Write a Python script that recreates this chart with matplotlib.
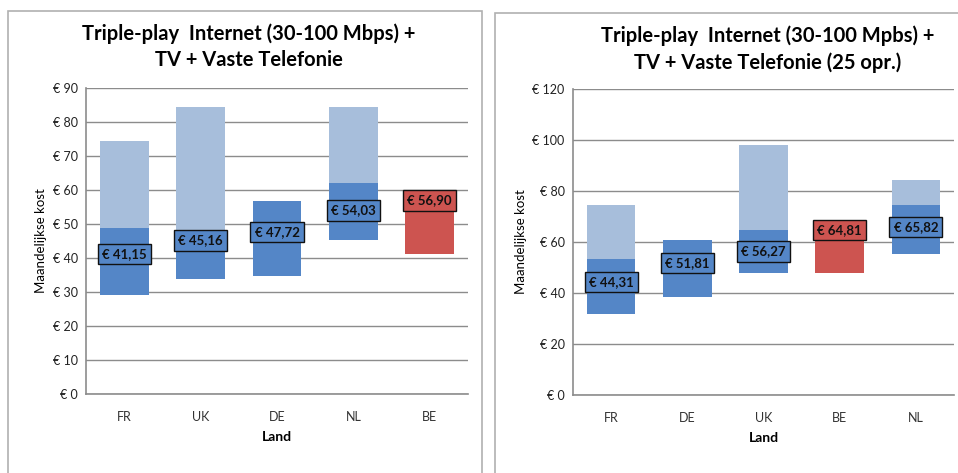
import matplotlib.pyplot as plt
from matplotlib.patches import Rectangle

plt.rcParams["font.family"] = ["Lato", "DejaVu Sans"]

# left chart: Mbps
left_countries = ["FR", "UK", "DE", "NL", "BE"]
left_min = [29.1, 33.8, 34.8, 45.3, 41.2]
left_mid = [48.8, 47.5, 56.8, 62.2, 58.9]
left_max = [74.4, 84.4, 56.8, 84.4, 58.9]
left_avg = [41.15, 45.16, 47.72, 54.03, 56.90]
left_ticks = [0, 10, 20, 30, 40, 50, 60, 70, 80, 90]

# right chart: 25 operators
right_countries = ["FR", "DE", "UK", "BE", "NL"]
right_min = [31.7, 38.6, 47.8, 47.8, 55.4]
right_mid = [53.3, 60.6, 64.8, 67.4, 74.6]
right_max = [74.6, 60.6, 98.2, 67.4, 84.4]
right_avg = [44.31, 51.81, 56.27, 64.81, 65.82]
right_ticks = [0, 20, 40, 60, 80, 100, 120]

light = "#a7bedb"
dark = "#5486c7"
red = "#cd5450"
grid_c = "#8c8c8c"

W, H = 958, 473
fig = plt.figure(figsize=(W / 100, H / 100), dpi=100)

# panel frames
for x0, x1, y0 in [(8, 482, 11), (495, 970, 13)]:
    fig.patches.append(Rectangle((x0 / W, -0.05), (x1 - x0) / W, 1.05 - y0 / H,
                                 transform=fig.transFigure, fill=False,
                                 edgecolor="#b0b0b0", lw=1.2))


def draw(ax, countries, lo, mid, hi, avg, ticks):
    x = list(range(len(countries)))
    for i, c in enumerate(countries):
        col = red if c == "BE" else dark
        ax.bar(i, mid[i] - lo[i], bottom=lo[i], width=0.64, color=col, zorder=2)
        ax.bar(i, hi[i] - mid[i], bottom=mid[i], width=0.64, color=light, zorder=2)
        ax.text(i, avg[i], "€ " + f"{avg[i]:.2f}".replace(".", ","),
                ha="center", va="center", fontsize=9.5, fontweight="bold",
                color="#111111", zorder=4,
                bbox=dict(boxstyle="square,pad=0.32", facecolor=col,
                          edgecolor="#111111", lw=1.0))
    ax.set_xlim(-0.5, len(countries) - 0.5)
    ax.set_ylim(ticks[0], ticks[-1])
    ax.set_yticks(ticks)
    ax.set_yticklabels(["€ " + str(t) for t in ticks], fontsize=9, color="#222222")
    ax.set_xticks(x)
    ax.set_xticklabels(countries, fontsize=9, color="#333333")
    ax.tick_params(length=0, pad=12)
    ax.tick_params(axis="y", pad=6)
    ax.yaxis.grid(True, color=grid_c, lw=1, zorder=0)
    for s in ["top", "right"]:
        ax.spines[s].set_visible(False)
    for s in ["left", "bottom"]:
        ax.spines[s].set_color(grid_c)
        ax.spines[s].set_linewidth(1.2)
    ax.set_xlabel("Land", fontsize=10, fontweight="bold", labelpad=6)
    ax.set_ylabel("Maandelijkse kost", fontsize=9.5, labelpad=4)


ax1 = fig.add_axes([86 / W, 1 - 394 / H, (468 - 86) / W, (394 - 88) / H])
draw(ax1, left_countries, left_min, left_mid, left_max, left_avg, left_ticks)

ax2 = fig.add_axes([573 / W, 1 - 395 / H, (954 - 573) / W, (395 - 89) / H])
draw(ax2, right_countries, right_min, right_mid, right_max, right_avg, right_ticks)

fig.text(249 / W, 1 - 47 / H, "Triple-play  Internet (30-100 Mbps) +\nTV + Vaste Telefonie",
         ha="center", va="center", fontsize=14.5, fontweight="bold", linespacing=1.4)
fig.text(768 / W, 1 - 49 / H, "Triple-play  Internet (30-100 Mpbs) +\nTV + Vaste Telefonie (25 opr.)",
         ha="center", va="center", fontsize=14.5, fontweight="bold", linespacing=1.4)

fig.savefig("out.png", dpi=100)
